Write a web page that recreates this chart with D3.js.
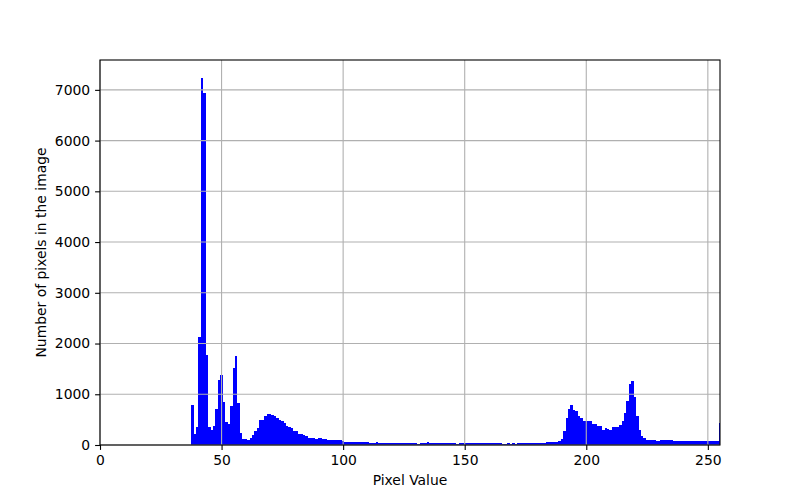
<!DOCTYPE html>
<html>
<head>
<meta charset="utf-8">
<script src="https://cdn.jsdelivr.net/npm/d3@7"></script>
<style>
  html, body { margin: 0; padding: 0; background: #fff; }
  svg { display: block; }
  text { font-family: "DejaVu Sans", sans-serif; }
</style>
</head>
<body>
<div id="chart"></div>
<script>
// Pixel values 0..255 (bars centred on each integer value)
const pixelValues = d3.range(0, 256);
// Counts per pixel value (0..37 are empty)
const leadingZeros = d3.range(0, 38).map(() => 0);
const counts38to100 = [
  788, 217, 361, 2135, 7227, 6945, 1774, 361, 296, 381,   // 38-47
  710, 1281, 1380, 854, 460, 420, 769, 1515, 1758, 830,  // 48-57
  240, 118, 118, 105, 145, 200, 283, 342, 493, 500,      // 58-67
  572, 611, 611, 598, 565, 526, 493, 473, 427, 381,      // 68-77
  355, 328, 283, 283, 223, 223, 197, 171, 145, 145,      // 78-87
  145, 125, 138, 138, 112, 125, 105, 105, 105, 105,      // 88-97
  92, 92, 72                                             // 98-100
];
const counts101to190 = [
  66, 65, 64, 63, 63, 62, 62, 61, 61, 60,                // 101-110
  46, 46, 46, 59, 39, 39, 39, 39, 39, 39,                // 111-120
  39, 39, 39, 39, 39, 39, 39, 39, 39, 39,                // 121-130
  26, 46, 46, 46, 59, 46, 46, 39, 39, 39,                // 131-140
  39, 39, 39, 39, 39, 39, 26, 46, 33, 30,                // 141-150
  30, 46, 46, 46, 30, 46, 46, 46, 46, 46,                // 151-160
  46, 46, 46, 46, 46, 26, 26, 46, 26, 46,                // 161-170
  26, 46, 46, 46, 46, 46, 46, 46, 46, 46,                // 171-180
  46, 46, 46, 66, 52, 66, 52, 50, 70, 115                // 181-190
];
const counts191to255 = [
  276, 526, 711, 789, 691, 671, 579, 526, 474, 474,      // 191-200
  474, 474, 414, 414, 382, 375, 296, 336, 316, 305,      // 201-210
  355, 355, 349, 395, 474, 630, 860, 1204, 1265, 954,    // 211-220
  565, 290, 175, 132, 99, 99, 99, 99, 86, 86,            // 221-230
  100, 100, 100, 100, 92, 79, 72, 72, 72, 72,            // 231-240
  72, 72, 72, 85, 72, 72, 72, 72, 85, 85,                // 241-250
  85, 85, 85, 85, 428                                    // 251-255
];
const counts = leadingZeros.concat(counts38to100, counts101to190, counts191to255);

const xTicks = [0, 50, 100, 150, 200, 250];
const yTicks = [0, 1000, 2000, 3000, 4000, 5000, 6000, 7000];
const xLabel = "Pixel Value";
const yLabel = "Number of pixels in the image";

const W = 800, H = 500;
const m = { left: 100, right: 80, top: 60, bottom: 55 };
const iw = W - m.left - m.right, ih = H - m.top - m.bottom;
const fs = 13.9;

const svg = d3.select("#chart").append("svg")
  .attr("width", W).attr("height", H);

const x = d3.scaleLinear().domain([0, 255]).range([0, iw]);
const y = d3.scaleLinear().domain([0, d3.max(counts) * 1.05]).range([ih, 0]);

const g = svg.append("g").attr("transform", `translate(${m.left},${m.top})`);

svg.append("defs").append("clipPath").attr("id", "clip")
  .append("rect").attr("width", iw).attr("height", ih);

// bars
g.append("g").attr("clip-path", "url(#clip)")
  .selectAll("rect").data(pixelValues.filter(v => counts[v] > 0)).join("rect")
  .attr("x", v => x(v - 0.5))
  .attr("width", v => x(v + 0.5) - x(v - 0.5))
  .attr("y", v => y(counts[v]))
  .attr("height", v => ih - y(counts[v]))
  .attr("fill", "#0000ff")
  .attr("shape-rendering", "crispEdges");

// grid (above bars, as in matplotlib)
const grid = g.append("g");
grid.selectAll("line.gx").data(xTicks).join("line")
  .attr("x1", d => x(d)).attr("x2", d => x(d))
  .attr("y1", 0).attr("y2", ih)
  .attr("stroke", "#b0b0b0").attr("stroke-width", 1.1);
grid.selectAll("line.gy").data(yTicks).join("line")
  .attr("y1", d => y(d)).attr("y2", d => y(d))
  .attr("x1", 0).attr("x2", iw)
  .attr("stroke", "#b0b0b0").attr("stroke-width", 1.1);

// axes
const xAxis = g.append("g").attr("transform", `translate(0,${ih})`)
  .call(d3.axisBottom(x).tickValues(xTicks).tickSize(4.9).tickPadding(4.9).tickFormat(d3.format("d")));
const yAxis = g.append("g")
  .call(d3.axisLeft(y).tickValues(yTicks).tickSize(4.9).tickPadding(4.9).tickFormat(d3.format("d")));
[xAxis, yAxis].forEach(a => {
  a.select(".domain").remove();
  a.selectAll(".tick line").attr("stroke", "#000").attr("stroke-width", 1.1);
  a.selectAll(".tick text").attr("fill", "#000")
    .style("font-family", "'DejaVu Sans', sans-serif").style("font-size", fs + "px");
});

// spines
g.append("rect").attr("width", iw).attr("height", ih)
  .attr("fill", "none").attr("stroke", "#000").attr("stroke-width", 1.1);

// labels
svg.append("text").attr("x", m.left + iw / 2).attr("y", 485)
  .attr("text-anchor", "middle").style("font-size", fs + "px").text(xLabel);
svg.append("text")
  .attr("transform", `translate(46,${m.top + ih / 2}) rotate(-90)`)
  .attr("text-anchor", "middle").style("font-size", fs + "px").text(yLabel);
</script>
</body>
</html>
